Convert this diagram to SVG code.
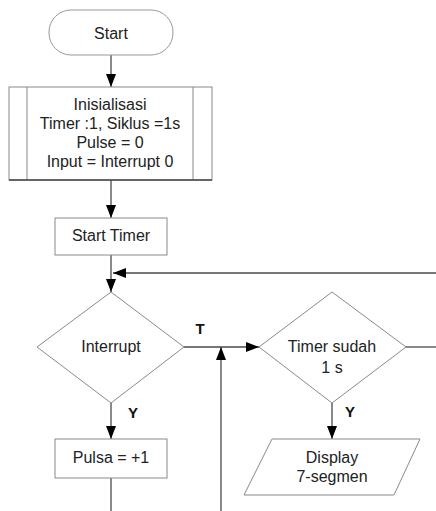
<svg xmlns="http://www.w3.org/2000/svg" width="436" height="511" viewBox="0 0 436 511">
<style>
.shape{fill:#fff;stroke:#8a8a8a;stroke-width:1}
.conn{stroke:#4a4a4a;stroke-width:1.3;fill:none}
.t{font-family:"Liberation Sans",Arial,sans-serif;font-size:16px;fill:#222;text-anchor:middle}
.lbl{font-family:"Liberation Sans",Arial,sans-serif;font-size:15px;font-weight:bold;fill:#111;text-anchor:middle}
</style>
<defs>
<marker id="arr" markerUnits="userSpaceOnUse" markerWidth="14" markerHeight="12" refX="13" refY="5" orient="auto">
<path d="M0,0 L13,5 L0,10 Z" fill="#000"/>
</marker>
</defs>
<rect width="436" height="511" fill="#fff"/>
<g id="connectors">
<line class="conn" x1="111" y1="55" x2="111" y2="87" marker-end="url(#arr)"/>
<line class="conn" x1="111" y1="180" x2="111" y2="218" marker-end="url(#arr)"/>
<line class="conn" x1="111" y1="255" x2="111" y2="292" marker-end="url(#arr)"/>
<line class="conn" x1="436" y1="273" x2="113" y2="273" marker-end="url(#arr)"/>
<line class="conn" x1="184" y1="347" x2="259" y2="347" marker-end="url(#arr)"/>
<line class="conn" x1="221" y1="511" x2="221" y2="347" marker-end="url(#arr)"/>
<line class="conn" x1="111" y1="403" x2="111" y2="439" marker-end="url(#arr)"/>
<line class="conn" x1="111" y1="478" x2="111" y2="511"/>
<line class="conn" x1="332" y1="403" x2="332" y2="439" marker-end="url(#arr)"/>
<line class="conn" x1="406" y1="347" x2="436" y2="347"/>
<text class="lbl" x="200" y="334">T</text>
<text class="lbl" x="133" y="418">Y</text>
<text class="lbl" x="350" y="417">Y</text>
</g>
<g id="start">
<rect class="shape" x="49" y="10" width="124" height="45" rx="22" ry="22" style="stroke:#999"/>
<text class="t" x="111" y="39">Start</text>
</g>
<g id="init">
<rect class="shape" x="9" y="87" width="203" height="93"/>
<line x1="27" y1="87" x2="27" y2="180" stroke="#8a8a8a"/>
<line x1="193" y1="87" x2="193" y2="180" stroke="#8a8a8a"/>
<line x1="9" y1="180" x2="212" y2="180" stroke="#444" stroke-width="1.3"/>
<text class="t" x="110" y="110">Inisialisasi</text>
<text class="t" x="110" y="129">Timer :1, Siklus =1s</text>
<text class="t" x="110" y="148">Pulse = 0</text>
<text class="t" x="110" y="167">Input = Interrupt 0</text>
</g>
<g id="start-timer">
<rect class="shape" x="55" y="218" width="112" height="37"/>
<text class="t" x="111" y="241">Start Timer</text>
</g>
<g id="interrupt">
<polygon class="shape" points="111,292 184,347 111,403 37,347"/>
<text class="t" x="111" y="352">Interrupt</text>
</g>
<g id="timer-check">
<polygon class="shape" points="332,292 406,347 332,403 259,347"/>
<text class="t" x="332" y="352">Timer sudah</text>
<text class="t" x="332" y="373">1 s</text>
</g>
<g id="pulsa">
<rect class="shape" x="55" y="439" width="112" height="39"/>
<text class="t" x="111" y="463">Pulsa = +1</text>
</g>
<g id="display">
<polygon class="shape" points="272,439 420,439 394,495 244,495"/>
<text class="t" x="332" y="463">Display</text>
<text class="t" x="332" y="482">7-segmen</text>
</g>
</svg>
